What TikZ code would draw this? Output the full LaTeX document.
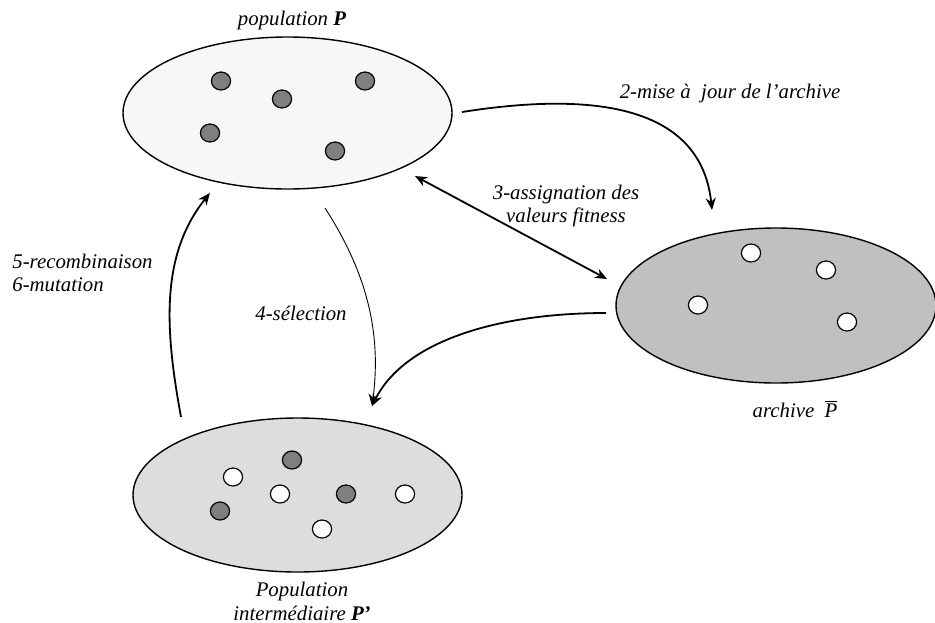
\documentclass[tikz,border=0pt]{standalone}
\usepackage{fontspec}
\setmainfont{Liberation Serif}
\usetikzlibrary{arrows.meta,shapes.geometric}
\definecolor{popfill}{HTML}{F7F7F7}
\definecolor{arcfill}{HTML}{C0C0C0}
\definecolor{intfill}{HTML}{DDDDDD}
\definecolor{dotdark}{HTML}{7F7F7F}
\begin{document}
\begin{tikzpicture}[x=0.5pt,y=-0.5pt,
  every node/.style={font=\fontsize{10.4}{11.5}\selectfont\itshape},
  setbox/.style={draw=black,line width=0.7pt,ellipse,inner sep=0pt},
  dkdot/.style={draw=black,line width=0.6pt,fill=dotdark,ellipse,inner sep=0pt,minimum width=9.6pt,minimum height=9pt},
  wtdot/.style={draw=black,line width=0.6pt,fill=white,ellipse,inner sep=0pt,minimum width=9.6pt,minimum height=9pt},
  flow/.style={line width=0.9pt,-{Stealth[length=6pt,width=5pt]}},
  thinflow/.style={line width=0.45pt,-{Stealth[length=6pt,width=5pt]}},
  lbl/.style={inner sep=0pt}]
\useasboundingbox (0,0) rectangle (935,622);
% sets
\node[setbox,fill=popfill,minimum width=164.5pt,minimum height=76pt] (pop) at (287.5,113) {};
\node[setbox,fill=arcfill,minimum width=160pt,minimum height=77.5pt] (arc) at (776,305.5) {};
\node[setbox,fill=intfill,minimum width=164.5pt,minimum height=77pt] (int) at (297.5,495) {};
% dots in population
\node[dkdot] (p1) at (221,81) {};
\node[dkdot] (p2) at (282,99) {};
\node[dkdot] (p3) at (365,81) {};
\node[dkdot] (p4) at (210,133) {};
\node[dkdot] (p5) at (335,151) {};
% dots in archive
\node[wtdot] (a1) at (751,253) {};
\node[wtdot] (a2) at (826,270) {};
\node[wtdot] (a3) at (698,305) {};
\node[wtdot] (a4) at (847,322) {};
% dots in intermediate population
\node[dkdot] (i1) at (292,460) {};
\node[wtdot] (i2) at (233,477) {};
\node[wtdot] (i3) at (280,494) {};
\node[dkdot] (i4) at (346,494) {};
\node[wtdot] (i5) at (405,494) {};
\node[dkdot] (i6) at (220,511) {};
\node[wtdot] (i7) at (322,529) {};
% labels
\node[lbl] (lpop) at (292,20) {population \textbf{P}};
\node[lbl] (larc) at (795,409) {archive\ \ $\overline{\mbox{\itshape P}}$};
\node[lbl,align=center] (lint) at (302,601) {Population\\[0.5pt]intermédiaire \textbf{P’}};
\node[lbl] (l2) at (730,93) {2-mise à\ \ jour de l’archive};
\node[lbl,align=center] (l3) at (566,206) {3-assignation des\\valeurs fitness};
\node[lbl] (l4) at (301,313) {4-sélection};
\node[lbl,align=left,anchor=west] (l5) at (12,273) {5-recombinaison\\6-mutation};
% connector end points
\coordinate (s2) at (462,112);
\coordinate (e2) at (712,210);
\coordinate (s3) at (415,176);
\coordinate (e3) at (607,279);
\coordinate (s4) at (325,208);
\coordinate (e4) at (372,406);
\coordinate (s5) at (606,313);
\coordinate (s6) at (181,417);
\coordinate (e6) at (210,193);
% connectors
\draw[flow] (s2) .. controls (570,95) and (700,95) .. (e2);
\draw[line width=0.9pt,{Stealth[length=6pt,width=5pt]}-{Stealth[length=6pt,width=5pt]}] (s3) -- (e3);
\draw[thinflow] (s4) .. controls (365,270) and (382,330) .. (e4);
\draw[flow] (s5) .. controls (500,313) and (405,340) .. (e4);
\draw[flow] (s6) .. controls (165,330) and (160,255) .. (e6);
\end{tikzpicture}
\end{document}
